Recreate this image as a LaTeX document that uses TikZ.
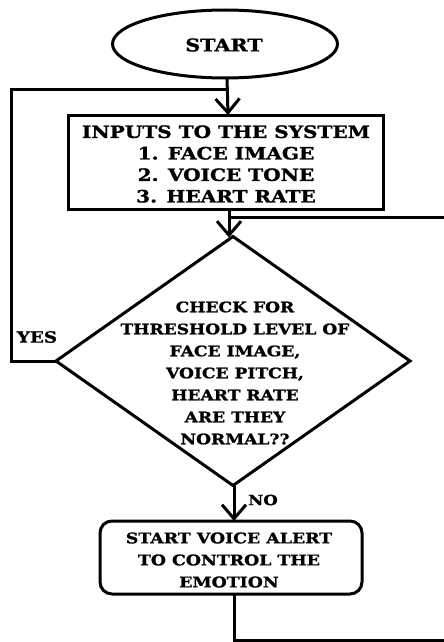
\documentclass[tikz,border=0pt]{standalone}
\usepackage{fontspec}
\setmainfont{DejaVu Serif}[BoldFeatures={FakeStretch=1.18,FakeBold=1.2}]
\usetikzlibrary{shapes.geometric,arrows.meta,calc}
\begin{document}
\begin{tikzpicture}[x=1pt,y=-1pt,
  every node/.style={font=\bfseries, outer sep=0pt},
  shp/.style={draw, line width=3pt, inner sep=0pt},
  conn/.style={line width=3pt},
  arr/.style={conn, -{Straight Barb[length=14pt,width=24pt,line width=3pt]}},
  txt/.style={align=center, font=\bfseries\fontsize{17}{21.5}\selectfont}]
\useasboundingbox (0,0) rectangle (444,642);
\node[shp, ellipse, minimum width=225pt, minimum height=68pt] (start) at (225,44) {};
\node[font=\bfseries\fontsize{17.5}{22}\selectfont] (starttxt) at (224,45) {START};
\node[shp, rectangle, minimum width=315pt, minimum height=94pt] (inputs) at (226,162) {};
\node[txt] (inputstxt) at (226,164) {INPUTS TO THE SYSTEM\\1. FACE IMAGE\\2. VOICE TONE\\3. HEART RATE};
\node[shp, diamond, minimum width=354pt, minimum height=249pt] (check) at (233,361) {};
\node[txt, font=\bfseries\fontsize{14.5}{22}\selectfont] (checktxt) at (235,373) {CHECK FOR\\THRESHOLD LEVEL OF\\FACE IMAGE,\\VOICE PITCH,\\HEART RATE\\ARE THEY\\NORMAL??};
\node[shp, rectangle, rounded corners=12pt, minimum width=262pt, minimum height=73pt] (alert) at (231,557.5) {};
\node[txt, font=\bfseries\fontsize{14.7}{22}\selectfont] (alerttxt) at (229,560) {START VOICE ALERT\\TO CONTROL THE\\EMOTION};
\node[font=\bfseries\fontsize{15.5}{18}\selectfont] (yes) at (37,337) {YES};
\node[font=\bfseries\fontsize{14}{18}\selectfont] (no) at (263,500) {NO};
\coordinate (jtop) at ($(start.south)+(2,11)$);
\coordinate (jmid) at ($(inputs.south)+(3,8)$);
\coordinate (rtop) at (444,217);
\coordinate (lbot) at ($(alert.south)+(3,46)$);
\coordinate (rbot) at (444,640);
\draw[arr] ($(start.south)+(2,0)$) -- ($(inputs.north)+(2,0)$);
\draw[conn] (check.west) -- ++(-45,0) |- (jtop);
\draw[arr] ($(inputs.south)+(3,0)$) -- ($(check.north)+(-4,1)$);
\draw[conn] (jmid) -- (rtop);
\draw[arr] ($(check.south)+(1,0)$) -- ($(alert.north)+(3,0)$);
\draw[conn] ($(alert.south)+(3,0)$) -- (lbot) -- (rbot);
\end{tikzpicture}
\end{document}
